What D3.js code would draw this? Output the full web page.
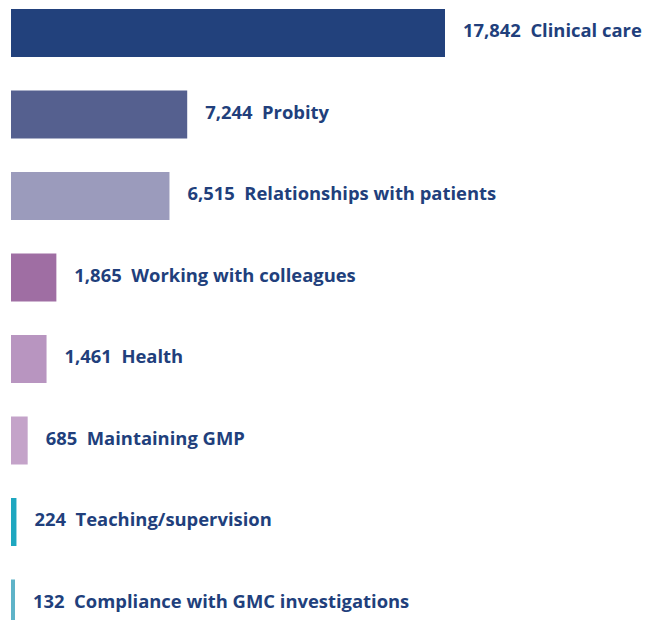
<!DOCTYPE html>
<html><head><meta charset="utf-8">
<script src="https://cdn.jsdelivr.net/npm/d3@7"></script>
<style>body{margin:0;background:#fff;}svg{display:block;}</style>
</head><body>
<svg id="chart" width="648" height="620"></svg>
<script>
const categories = ["Clinical care","Probity","Relationships with patients","Working with colleagues","Health","Maintaining GMP","Teaching/supervision","Compliance with GMC investigations"];
const values = [17842,7244,6515,1865,1461,685,224,132];
const colors = ["#22417c","#55608f","#9b9bbc","#9f6ea3","#b895c0","#c4a3c9","#1ea7c0","#5fb3c8"];

const svg = d3.select("#chart");
const left = 11;
const x = d3.scaleLinear().domain([0, 17842]).range([0, 434]);
const pad = 33.5/81.5;
const y = d3.scaleBand().domain(categories).range([9, 9 + 7*81.5 + 48]).paddingInner(pad).paddingOuter(0);

const g = svg.append("g");
categories.forEach((c,i)=>{
  const w = Math.max(x(values[i]), 4);
  g.append("rect").attr("x", left).attr("y", y(c)).attr("width", w).attr("height", y.bandwidth()).attr("fill", colors[i]);
  g.append("text").attr("x", left + w + 18).attr("y", y(c) + y.bandwidth()/2 - 2).attr("dy","0.35em")
   .attr("font-family","'Open Sans', sans-serif").attr("font-weight",700).attr("font-size","18.4px")
   .attr("fill","#213f7c")
   .text(d3.format(",")(values[i]) + "\u00a0\u00a0" + c);
});
</script>
</body></html>
